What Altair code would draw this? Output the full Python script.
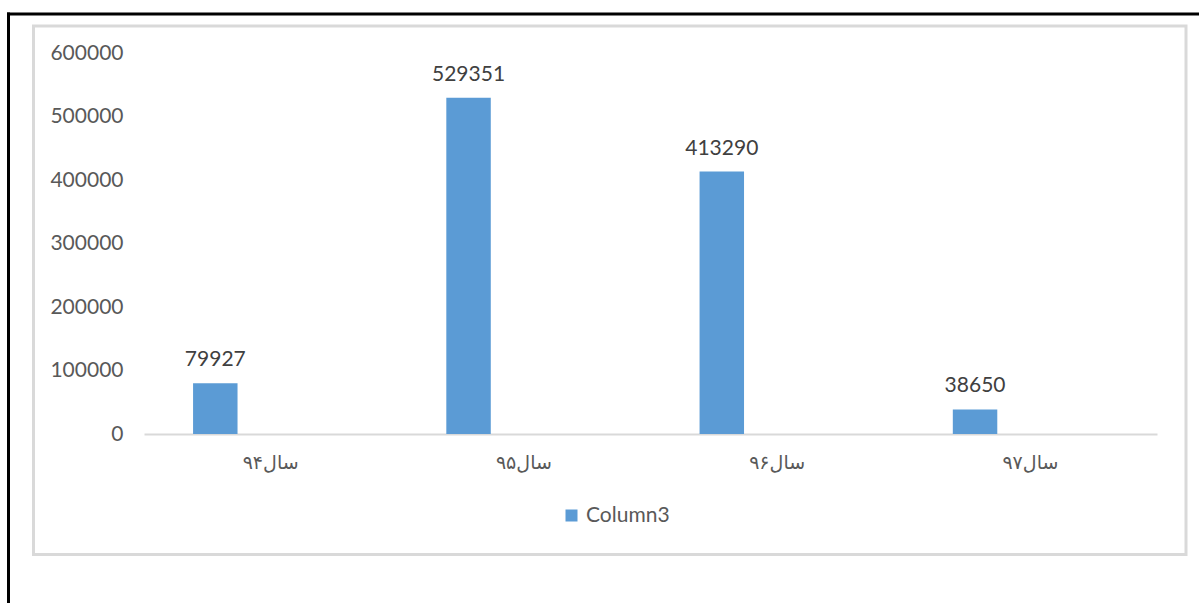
import altair as alt
import pandas as pd

# Yearly totals, one bar per year (series "Column3")
categories = ["سال۹۴", "سال۹۵", "سال۹۶", "سال۹۷"]
values = [79927, 529351, 413290, 38650]
series_name = "Column3"
y_ticks = [0, 100000, 200000, 300000, 400000, 500000, 600000]

df = pd.DataFrame({
    "category": categories,
    "value": values,
    "series": [series_name] * len(categories),
})

PLOT_W, PLOT_H = 1013, 381
LABEL_GRAY = "#595959"
BAR_BLUE = "#5b9bd5"

x_enc = alt.X(
    "category:N",
    sort=categories,
    scale=alt.Scale(paddingInner=0, paddingOuter=0),
    axis=alt.Axis(
        title=None, labelAngle=0, ticks=False,
        domainColor="#d9d9d9", domainWidth=2,
        labelFont="DejaVu Sans", labelFontSize=19,
        labelColor=LABEL_GRAY, labelPadding=19,
    ),
)
# bar sits left of the category centre, like a clustered column chart
xoff_enc = alt.XOffset(
    "series:N",
    scale=alt.Scale(paddingInner=0.787, paddingOuter=0.5, align=0.235),
)
y_enc = alt.Y(
    "value:Q",
    scale=alt.Scale(domain=[0, 600000], nice=False),
    axis=alt.Axis(
        title=None, values=y_ticks, grid=False, domain=False, ticks=False,
        labelPadding=21, labelFont="Lato", labelFontSize=21,
        labelColor=LABEL_GRAY, format="d",
    ),
)

base = alt.Chart(df)

bars = base.mark_bar().encode(
    x=x_enc,
    xOffset=xoff_enc,
    y=y_enc,
    color=alt.Color(
        "series:N",
        scale=alt.Scale(range=[BAR_BLUE]),
        legend=alt.Legend(
            title=None, orient="none", legendX=417, legendY=452,
            symbolType="square", symbolSize=144, symbolStrokeWidth=0,
            labelFont="Lato", labelFontSize=21, labelColor=LABEL_GRAY,
        ),
    ),
)

labels = base.mark_text(
    font="Lato", fontSize=21, color="#404040", dy=-17, baseline="alphabetic"
).encode(
    x=x_enc,
    xOffset=xoff_enc,
    y=y_enc,
    text=alt.Text("value:Q", format="d"),
)

one = pd.DataFrame({"k": [0]})

# chart-area frame (light gray) and the outer black edges
frame = alt.Chart(one).mark_rect(
    fillOpacity=0, stroke="#d9d9d9", strokeWidth=3
).encode(
    x=alt.value(-110.5), x2=alt.value(1042),
    y=alt.value(-27), y2=alt.value(501.5),
)
edge_top = alt.Chart(one).mark_rule(color="black", strokeWidth=3).encode(
    x=alt.value(-137), x2=alt.value(1060), y=alt.value(-39)
)
edge_left = alt.Chart(one).mark_rule(color="black", strokeWidth=3).encode(
    x=alt.value(-135.5), y=alt.value(-40.5), y2=alt.value(560)
)

chart = alt.layer(frame, edge_top, edge_left, bars, labels).properties(
    width=PLOT_W,
    height=PLOT_H,
    autosize=alt.AutoSizeParams(type="none"),
    padding={"left": 144, "top": 53, "right": 42, "bottom": 169},
).configure(background="white").configure_view(strokeWidth=0, stroke="transparent")

chart.save("out.html", embed_options={"renderer": "svg", "actions": False})
